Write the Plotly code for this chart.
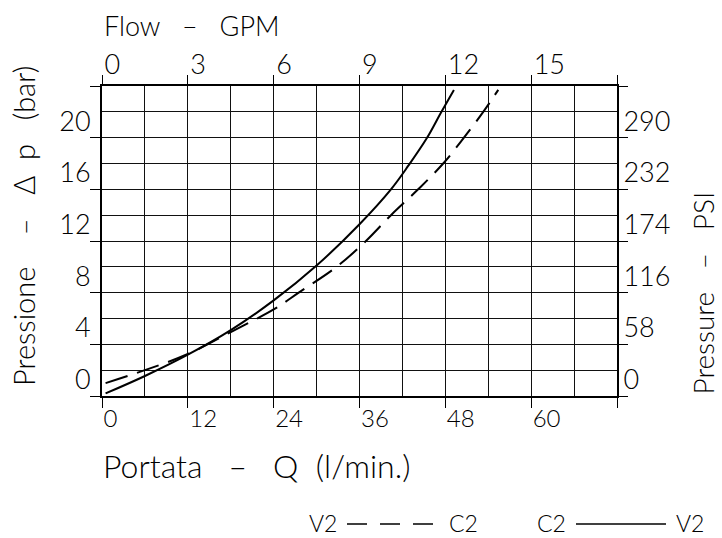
import plotly.graph_objects as go

# ---- data ----
solid_q = [0.5, 6, 12, 18, 24, 30, 36, 40.4, 42.85, 45.4, 47.4, 49.2]
solid_p = [0.2, 1.55, 3.2, 5.1, 7.4, 10.1, 13.3, 16.0, 17.85, 19.95, 21.95, 23.7]

dash_q = [0.5, 6, 12, 18, 24, 27.5, 32.8, 36.9, 40.4, 44.2, 47.7, 50.6, 53.3, 55.4]
dash_p = [1.0, 2.0, 3.25, 4.95, 6.7, 8, 10, 12, 14, 16, 18, 20, 22, 23.7]

lmin_ticks = [0, 12, 24, 36, 48, 60, 72]
lmin_labels = ["0", "12", "24", "36", "48", "60", ""]
gpm_ticks = [0, 3, 6, 9, 12, 15, 18]
gpm_labels = ["0", "3", "6", "9", "12", "15", ""]
bar_ticks = [0, 4, 8, 12, 16, 20, 24]
bar_labels = ["0", "4", "8", "12", "16", "20", ""]
psi_ticks = [0, 58, 116, 174, 232, 290, 348]
psi_labels = ["0", "58", "116", "174", "232", "290", ""]

FONT = "Lato"
WGT = 300
NB = "\u00a0"

fig = go.Figure()
fig.add_trace(go.Scatter(x=dash_q, y=dash_p, mode="lines",
                         line=dict(color="black", width=2, dash="23px,10px", shape="spline", smoothing=1.0),
                         showlegend=False, hoverinfo="skip"))
fig.add_trace(go.Scatter(x=solid_q, y=solid_p, mode="lines",
                         line=dict(color="black", width=2, shape="spline", smoothing=1.0),
                         showlegend=False, hoverinfo="skip"))
# invisible trace to activate secondary axes
fig.add_trace(go.Scatter(x=[0], y=[0], xaxis="x2", yaxis="y2", mode="markers",
                         marker=dict(opacity=0), showlegend=False, hoverinfo="skip"))

L, R, T, B = 102, 105, 86, 142
W, H = 722, 538
pw = W - L - R
ph = H - T - B

def px(x):
    return (x - L) / pw

def py(y):
    return (H - B - y) / ph

tickfont_big = dict(family=FONT, size=27, color="black", weight=WGT)
tickfont_small = dict(family=FONT, size=24, color="black", weight=WGT)

fig.update_layout(
    width=W, height=H,
    margin=dict(l=L, r=R, t=T, b=B),
    paper_bgcolor="white", plot_bgcolor="white",
    font=dict(family=FONT, color="black"),
    xaxis=dict(range=[0, 72], tickvals=lmin_ticks, ticktext=lmin_labels,
               ticks="outside", ticklen=10, tickwidth=1, tickcolor="black",
               ticklabelposition="outside right", tickfont=tickfont_small,
               ticklabelstandoff=0,
               showgrid=True, gridcolor="#111", gridwidth=1,
               minor=dict(dtick=6, showgrid=True, gridcolor="#111", gridwidth=1, ticklen=0),
               showline=True, linecolor="black", linewidth=2, mirror=True,
               zeroline=False, fixedrange=True),
    xaxis2=dict(range=[0, 18], overlaying="x", side="top", anchor="y",
                tickvals=gpm_ticks, ticktext=gpm_labels,
                ticks="outside", ticklen=10, tickwidth=1, tickcolor="black",
                ticklabelposition="outside right", tickfont=tickfont_big,
                ticklabelshift=2,
                showgrid=False, zeroline=False, showline=False, fixedrange=True),
    yaxis=dict(range=[0, 24], tickvals=bar_ticks, ticktext=bar_labels,
               ticks="outside", ticklen=10, tickwidth=1, tickcolor="black",
               ticklabelposition="outside top", tickfont=tickfont_big,
               ticklabelshift=3, ticklabelstandoff=4,
               showgrid=True, gridcolor="#111", gridwidth=1,
               minor=dict(dtick=2, showgrid=True, gridcolor="#111", gridwidth=1, ticklen=0),
               showline=True, linecolor="black", linewidth=2, mirror=True,
               zeroline=False, fixedrange=True),
    yaxis2=dict(range=[0, 348], overlaying="y", side="right", anchor="x",
                tickvals=psi_ticks, ticktext=psi_labels,
                ticks="outside", ticklen=10, tickwidth=1, tickcolor="black",
                ticklabelposition="outside top", tickfont=tickfont_big,
                ticklabelshift=3, ticklabelstandoff=0,
                showgrid=False, zeroline=False, showline=False, fixedrange=True),
)

ann = []
sp3 = NB * 3
sp2 = NB * 2
# axis titles
ann.append(dict(text=f"Flow{sp3}–{sp3}GPM", xref="paper", yref="paper",
                x=px(102), y=py(26), xanchor="left", yanchor="middle", showarrow=False,
                font=dict(family=FONT, size=27, color="black", weight=WGT)))
ann.append(dict(text=f"Portata{sp3}–{sp3}Q{sp2}(l/min.)", xref="paper", yref="paper",
                x=px(101), y=py(465), xanchor="left", yanchor="middle", showarrow=False,
                font=dict(family=FONT, size=32, color="black", weight=WGT)))
ann.append(dict(text=f"Pressione{NB*4}–{sp3}Δ{sp2}p{sp3}(bar)", xref="paper", yref="paper",
                x=px(23), y=py(388), xanchor="center", yanchor="bottom", textangle=-90,
                showarrow=False, font=dict(family=FONT, size=29, color="black", weight=WGT)))
ann.append(dict(text=f"Pressure{sp3}–{sp3}PSI", xref="paper", yref="paper",
                x=px(702), y=py(397), xanchor="center", yanchor="bottom", textangle=-90,
                showarrow=False, font=dict(family=FONT, size=28, color="black", weight=WGT)))
# legend texts
lg_font = dict(family=FONT, size=23, color="black", weight=WGT)
for txt, xc in [("V2", 323), ("C2", 463), ("C2", 551), ("V2", 690)]:
    ann.append(dict(text=txt, xref="paper", yref="paper", x=px(xc), y=py(523),
                    xanchor="center", yanchor="middle", showarrow=False, font=lg_font))
fig.update_layout(annotations=ann)

shapes = [
    dict(type="line", xref="paper", yref="paper", x0=px(347), x1=px(435), y0=py(524), y1=py(524),
         line=dict(color="black", width=1.5, dash="20px,13px")),
    dict(type="line", xref="paper", yref="paper", x0=px(576), x1=px(666), y0=py(524), y1=py(524),
         line=dict(color="black", width=1.5)),
]
fig.update_layout(shapes=shapes)

fig.write_html("out.html", config={"displayModeBar": False},
               post_script="document.body.style.margin='0';document.body.style.overflow='hidden';")
